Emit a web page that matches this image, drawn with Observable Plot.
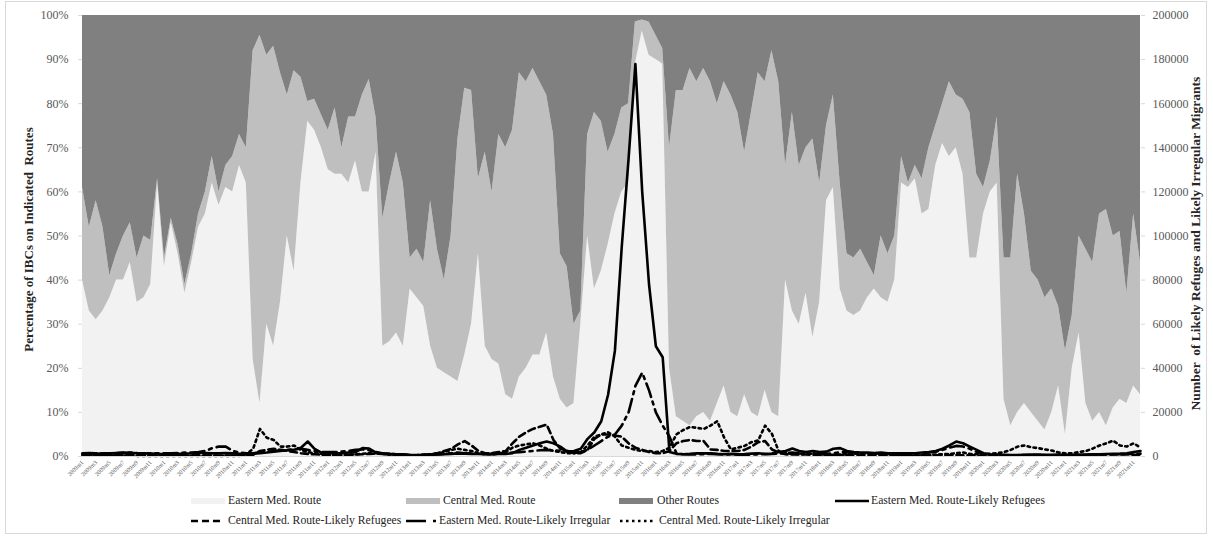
<!DOCTYPE html>
<html><head><meta charset="utf-8">
<script src="https://cdn.jsdelivr.net/npm/d3@7"></script>
<script src="https://cdn.jsdelivr.net/npm/@observablehq/plot@0.6"></script>
<style>
body{margin:0;background:#fff;}
#wrap{position:relative;width:1213px;height:537px;font-family:"Liberation Serif","Times New Roman",serif;overflow:hidden;}
#frame{position:absolute;left:5px;top:1px;width:1202px;height:533px;border:1px solid #d9d9d9;box-sizing:border-box;}
#chart{position:absolute;left:0;top:0;}
.leg{position:absolute;font-size:11.7px;color:#262626;white-space:nowrap;line-height:14px;}
.sw{position:absolute;}
</style></head><body>
<div id="wrap"><div id="frame"></div><div id="chart"></div><div id="legend"></div></div>
<script>
// ---- categories ----
const years = [2009,2010,2011,2012,2013,2014,2015,2016,2017,2018,2019,2020,2021];
const monthNums = [1,2,3,4,5,6,7,8,9,10,11,12];
const months = years.flatMap(y => monthNums.map(m => `${y}m${m}`));
const routes = ["Eastern Med. Route","Central Med. Route","Other Routes"];
const routeColors = ["#f2f2f2","#bfbfbf","#808080"];

// ---- shares of IBCs (%) ----
const easternShare = [
40,33,31,33,36,40,40,44,35,36,39,62,
43,53,46,37,44,52,55,62,57,61,60,66,
62,22,12,30,25,35,50,42,62,76,74,70,
65,64,64,62,67,60,60,69,25,26,28,25,
38,36,34,25,20,19,18,17,23,30,46,25,
22,21,14,13,18,20,23,23,28,18,13,11,
12,30,50,38,42,48,55,60,62,89,96.5,91,
90,89,20,9,8,7,9,10,8,12,16,10,
9,14,10,9,15,10,9,40,33,30,37,27,
35,58,61,38,33,32,33,36,38,36,35,40,
62,61,63,55,56,66,71,68,70,64,45,45,
55,60,62,13,7,10,12,10,8,6,10,16,
5,20,28,12,8,10,7,11,13,12,16,14];
const centralShare = [
21,19,27,19,5,6,10,9,10,14,10,1,
2,1,2,2,2,3,5,6,3,5,8,7,
8,70,83.5,61,68,52,32,45.5,24,4.5,7,7.5,
9,15,6,15,10,22,25.5,8,29,36,41,37,
7,11,10,33,27,21,32,55,60.5,53,17,44,
38,52,56,61,69,65,65,62,54,55,33,32,
18,3,23,40,34,21,18,19,18,9.5,2.5,7.5,
5.5,3.5,50,74,75,81,76,78,77,68,69,72,
69,55,68,78,70,82,76,26,45,36,33,45,
27,17,21,24,13,13,14,8,3,14,11,10,
6,1,3,8,14,9,9,17,12,17,33,19,
6,7,15,32,38,54,43,32,32,30,28,18,
19,12,22,35,36,45,49,39,38,25,39,30];

// ---- numbers of migrants ----
const easternRefugees = [
1200,1300,1200,1400,1500,1600,1800,1700,1500,1400,1300,1200,
1000,1100,1200,1300,1500,1800,1600,1400,1500,1600,1400,1200,
1200,1300,1500,1800,2200,2500,2800,3000,4000,6800,3500,1800,
1500,1500,1600,1800,2000,3800,3600,1800,1500,1200,1000,1000,
800,700,700,800,900,1000,1200,1400,1300,1200,1100,1000,
1000,1100,1200,1500,3000,4000,5000,6000,6800,6000,4500,2200,
2500,3500,8000,11000,16000,28000,48000,95000,135000,178000,120000,78000,
50000,45000,2000,1200,1000,1200,1500,1400,1500,1200,1000,1200,
1000,1100,1300,1500,1200,1300,2000,2500,3600,2500,2000,2500,
2000,2200,3500,3800,2500,2000,1800,1800,1600,1800,1500,1500,
1500,1500,1500,1800,2000,2500,3500,5000,6800,6000,4500,3000,
1500,1000,900,800,700,700,800,900,900,800,800,900,
800,800,900,900,1000,1000,1100,1200,1300,1500,2000,2500];
const centralRefugees = [
500,500,600,600,700,700,800,700,600,500,400,400,
400,400,400,400,500,500,500,400,400,400,400,400,
400,800,2500,3000,3500,3000,2500,2000,1500,1200,1000,800,
600,600,700,800,900,1000,1200,1300,1200,1000,800,700,
600,600,800,1000,1500,2500,3500,5500,7000,5000,2500,1500,
1500,2000,2500,6000,9000,11000,12500,13500,14500,7500,3500,2500,
1500,1500,3000,8000,10000,10000,9500,9000,6000,4000,3000,2000,
1500,1500,2500,6000,7000,7500,7000,7000,3200,3000,2500,2500,
2500,3000,4500,6500,7000,3200,1800,1000,900,900,900,800,
700,600,600,700,800,800,700,700,600,600,500,500,
400,400,400,500,500,600,600,700,700,600,500,500,
400,400,400,500,500,600,700,700,700,600,500,500,
500,500,500,600,700,800,900,1000,1000,900,800,800];
const easternIrregular = [
1500,1600,1500,1400,1500,1600,1700,1800,1600,1500,1400,1500,
1500,1500,1600,1800,1800,2000,2500,3800,4500,4500,2500,1800,
1500,1500,1800,2000,2500,2800,3000,3200,3500,3000,2500,2000,
2000,2000,2200,2500,3000,3200,2800,2000,1200,800,700,600,
600,600,700,800,900,1200,1500,1800,1500,1400,1300,1200,
1200,1300,1500,1800,2000,2200,2500,2800,3000,2800,2500,2500,
2000,2000,3000,5000,7000,9000,10000,14000,20000,32000,38000,30000,
20000,14000,9000,1500,1000,900,1000,1100,1200,1000,900,1000,
800,800,900,1000,1000,1100,1300,1500,1800,1500,1300,1200,
1200,1200,1500,2000,2000,1800,1500,1500,1400,1300,1200,1200,
1200,1200,1300,1500,1800,2200,3000,4000,4800,4500,3500,2000,
1200,900,700,600,500,500,500,500,600,600,600,600,
600,600,700,700,800,800,900,900,1000,1100,1200,1300];
const centralIrregular = [
800,700,600,500,400,400,400,400,300,300,300,300,
300,300,300,300,300,300,300,300,300,300,300,300,
1000,3500,12500,8500,7500,4500,4500,5000,3000,2000,1500,1200,
800,700,700,800,1000,1200,1500,1500,1400,1200,900,800,
600,600,800,1000,1500,2000,3000,3500,3000,2500,1500,1000,
1000,1200,2000,4000,5000,5500,6000,5000,3500,2500,2000,1500,
1500,2000,5000,9000,10000,11000,9000,5000,4000,3000,2500,2500,
2000,2500,4000,10000,12000,13400,13000,12500,14000,16000,8600,3200,
4000,4800,6500,7300,14000,10300,2400,1500,1200,1000,1200,1500,
1000,800,800,900,1000,1200,1500,1500,1200,1200,1000,800,
500,500,600,700,800,900,1000,1200,1500,1800,1200,1000,
1000,1200,1500,2000,3000,4500,5000,4200,3800,3200,2700,1800,
1500,1500,2000,2500,3600,5000,6000,7200,5000,4500,6000,4000];

const pctTicks = [0,10,20,30,40,50,60,70,80,90,100];
const countMax = 200000;
const lineSeries = [
  {name:"Eastern Med. Route-Likely Refugees", values: easternRefugees, dash: null},
  {name:"Central Med. Route-Likely Refugees", values: centralRefugees, dash: "7,4"},
  {name:"Eastern Med. Route-Likely Irregular", values: easternIrregular, dash: "14,5,3,5"},
  {name:"Central Med. Route-Likely Irregular", values: centralIrregular, dash: "2.5,3.5"}
];

// ---- build tables ----
const idx = d3.range(months.length);
const shares = idx.flatMap(i => [
  {i, route: routes[0], v: easternShare[i]},
  {i, route: routes[1], v: centralShare[i]},
  {i, route: routes[2], v: Math.max(0, 100 - easternShare[i] - centralShare[i])}
]);
const toPct = v => v / countMax * 100;

const fontFam = "Liberation Serif, Times New Roman, serif";
const W = 1213, H = 485;
const chart = Plot.plot({
  width: W, height: H,
  marginLeft: 82, marginRight: 73, marginTop: 15, marginBottom: 29,
  style: {fontFamily: fontFam, background: "transparent", overflow: "visible"},
  x: {domain: [0, months.length - 1], axis: null},
  y: {domain: [0, 100], axis: null},
  color: {domain: routes, range: routeColors},
  marks: [
    Plot.areaY(shares, {x: "i", y: "v", fill: "route", order: routes, curve: "linear"}),
    ...lineSeries.map(s => Plot.lineY(idx, {
      x: i => i, y: i => toPct(s.values[i]),
      stroke: "#000", strokeWidth: 2.6, strokeDasharray: s.dash,
      strokeLinejoin: "round", curve: "linear"
    })),
    Plot.ruleY([0], {stroke: "#d9d9d9", strokeWidth: 1}),
    Plot.axisY({anchor: "left", ticks: pctTicks, tickFormat: d => d + "%", tickSize: 4,
      tickPadding: 10, fontSize: 12, stroke: "#d9d9d9", fill: "#595959", label: null}),
    Plot.axisY({anchor: "right", ticks: pctTicks, tickFormat: d => String(d / 100 * countMax), tickSize: 4,
      tickPadding: 8, fontSize: 12, stroke: "#d9d9d9", fill: "#595959", label: null}),
    Plot.axisX({anchor: "bottom", ticks: idx.filter(i => i % 2 === 0), tickFormat: i => months[i],
      tickRotate: -45, tickSize: 0, tickPadding: 5, fontSize: 6, fill: "#595959", label: null})
  ]
});
document.getElementById("chart").appendChild(chart);

// axis titles
const svg = d3.select(chart);
const cy = (15 + (H - 29)) / 2;
svg.append("text").attr("transform", `translate(33,${cy + 4}) rotate(-90)`)
  .attr("text-anchor", "middle").attr("font-family", fontFam).attr("font-weight", "bold")
  .attr("font-size", 13).attr("fill", "#262626").text("Percentage of IBCs on Indicated  Routes");
svg.append("text").attr("transform", `translate(1200,${cy + 8}) rotate(-90)`)
  .attr("text-anchor", "middle").attr("font-family", fontFam).attr("font-weight", "bold")
  .attr("font-size", 13.5).attr("fill", "#262626").attr("xml:space", "preserve")
  .text("Number  of Likely Refuges and Likely Irregular Migrants");

// legend
const legend = document.getElementById("legend");
const items = [
  {label: routes[0], type: "area", color: routeColors[0], x: 191, y: 501, tx: 228},
  {label: routes[1], type: "area", color: routeColors[1], x: 406, y: 501, tx: 443},
  {label: routes[2], type: "area", color: routeColors[2], x: 619, y: 501, tx: 657},
  {label: lineSeries[0].name, type: "line", dash: null, x: 835, y: 501, tx: 871, w: 34},
  {label: lineSeries[1].name, type: "line", dash: "7,4", x: 191, y: 521, tx: 228, w: 33},
  {label: lineSeries[2].name, type: "line", dash: "20,7,3,4", x: 406, y: 521, tx: 439, w: 31},
  {label: lineSeries[3].name, type: "line", dash: "2.5,3.5", x: 620, y: 521, tx: 659, w: 34}
];
items.forEach(it => {
  const s = document.createElementNS("http://www.w3.org/2000/svg", "svg");
  s.setAttribute("class", "sw");
  s.setAttribute("width", 36); s.setAttribute("height", 10);
  s.style.left = it.x + "px"; s.style.top = (it.y - 5) + "px";
  if (it.type === "area") {
    s.innerHTML = `<rect x="0" y="2" width="34" height="6" fill="${it.color}"/>`;
  } else {
    s.innerHTML = `<line x1="0" x2="${it.w}" y1="5" y2="5" stroke="#000" stroke-width="2.6" ${it.dash ? `stroke-dasharray="${it.dash}"` : ""}/>`;
  }
  legend.appendChild(s);
  const t = document.createElement("div");
  t.className = "leg"; t.textContent = it.label;
  t.style.left = it.tx + "px"; t.style.top = (it.y - 7) + "px";
  legend.appendChild(t);
});
</script>
</body></html>
